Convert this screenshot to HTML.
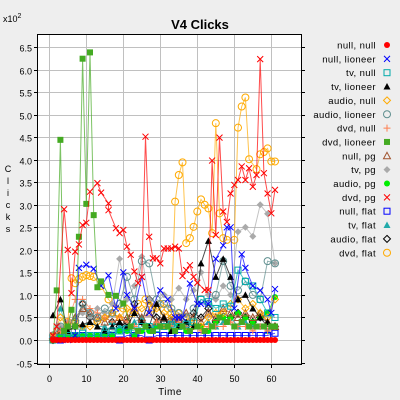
<!DOCTYPE html>
<html><head><meta charset="utf-8"><style>
body{margin:0;background:#eeeeee;}
svg{display:block;font-family:"Liberation Sans",sans-serif;}
</style></head><body>
<svg id="chart" width="400" height="400" viewBox="0 0 400 400">
<rect x="0" y="0" width="400" height="400" fill="#eeeeee"/>
<text x="200" y="29" text-anchor="middle" font-size="13" font-weight="bold">V4 Clicks</text>
<text x="3" y="22" font-size="9">x10<tspan dy="-4" font-size="7">2</tspan></text>
<g id="ytitle" font-size="9" text-anchor="middle">
<text x="8" y="172">C</text><text x="8" y="184">l</text><text x="8" y="196">i</text><text x="8" y="208">c</text><text x="8" y="220">k</text><text x="8" y="232">s</text>
</g>
<text x="170" y="395" text-anchor="middle" font-size="10" letter-spacing="0.5">Time</text>
<g id="plot"></g>
<g id="legend"></g>
</svg>
<script>
const xs1=[1,2,3,4,5,6,7,8,9,10,11,12,13,14,15,16,17,18,19,20,21,22,23,24,25,26,27,28,29,30,31,32,33,34,35,36,37,38,39,40,41,42,43,44,45,46,47,48,49,50,51,52,53,54,55,56,57,58,59,60,61];
const nullNull=[0,0,0,0,0,0,0,0,0,0,0,0,0,0,0,0,0,0,0,0,0,0,0,0,0,0,0,0,0,0,0,0,0,0,0,0,0,0,0,0,0,0,0,0,0,0,0,0,0,0,0,0,0,0,0,0,0,0,0,0,0];
const xs2=[1,3,5,7,9,11,13,15,17,19,21,23,25,27,29,31,33,35,37,39,41,43,45,47,49,51,53,55,57,59,61];
const tvNull=[0,0.05,0.1,0.1,0.15,0.1,0.1,0.15,0.2,0.2,0.25,0.2,0.3,0.3,0.25,0.3,0.35,0.3,0.35,0.4,0.9,0.85,0.7,0.8,0.75,1.55,1.3,1.2,0.9,0.6,0.5];
const audioNull=[0.1,0.5,0.3,0.4,0.3,0.3,0.4,0.5,0.6,0.5,0.7,0.6,0.7,0.8,0.7,0.6,0.5,0.6,0.5,0.4,0.3,0.5,0.6,0.6,0.8,0.9,0.7,0.8,0.6,0.5,0.9];
const dvdNull=[0.1,0.2,0.4,0.9,0.9,0.7,0.6,0.5,0.4,0.5,0.4,0.3,0.4,0.3,0.4,0.3,0.3,0.4,0.3,0.3,0.2,0.3,0.3,0.3,0.4,0.3,0.3,0.2,0.3,0.2,0.3];
const nullPg=[0.1,0.2,0.3,0.5,0.7,0.6,0.5,0.4,0.6,0.5,0.5,0.7,0.5,0.6,0.4,0.5,0.4,0.5,0.6,0.5,0.4,0.6,0.5,0.7,0.6,0.5,0.6,0.5,0.6,0.4,0.3];
const audioPg=[0,0.1,0.1,0.1,0.1,0.1,0.1,0.1,0.1,0.2,0.2,0.1,0.2,0.2,0.3,0.3,0.2,0.3,0.2,0.3,0.3,0.2,0.4,0.5,0.5,0.6,0.5,0.4,0.5,0.6,0.95];
const nullFlat=[0,0,0.05,0.05,0.1,0.1,0.1,0.1,0.1,0,0.1,0.1,0.1,0,0.1,0.1,0.1,0.1,0.1,0.1,0.1,0.1,0.1,0.1,0.1,0.1,0.1,0.1,0.1,0.1,0.15];
const tvFlat=[0.1,0.7,0.2,0.3,0.3,0.4,0.3,0.3,0.4,0.3,0.3,0.4,0.5,0.3,0.4,0.3,0.4,0.3,0.4,0.3,0.3,0.4,0.3,0.4,0.5,0.3,0.4,0.3,0.3,0.2,0.3];
const audioFlat=[0,0.2,0.3,0.3,0.8,0.5,0.4,0.5,0.4,0.3,0.4,0.8,0.4,0.9,0.5,0.4,0.5,0.4,0.3,0.6,0.5,0.7,0.4,0.6,0.5,0.6,0.5,0.4,0.5,0.3,0.3];
const tvLioneer=[0.55,0.9,0.2,0.3,0.35,0.4,0.3,0.2,0.3,0.4,0.3,0.6,0.4,0.3,0.8,0.5,0.2,0.3,0.4,0.3,1.7,2.2,1.4,1.8,1.4,0.9,1.0,0.7,0.5,0.4,0.3];
const audioLioneer=[0.1,0.3,0.2,0.4,0.8,0.6,0.5,0.7,0.6,0.8,1.4,0.9,1.75,1.7,0.9,0.8,0.7,0.6,0.5,0.7,0.9,0.8,1.0,1.75,1.2,1.1,1.3,1.0,0.9,1.75,1.7];
const tvPg=[0.1,0.3,0.4,0.5,0.6,0.5,0.7,0.6,0.8,1.8,0.9,1.2,1.85,0.9,0.8,1.0,0.9,1.15,0.9,1.1,1.5,1.0,0.9,1.2,1.0,2.4,2.5,2.3,3.0,2.8,1.7];
const nullLioneerX=[1,3,5,7,8,10,12,14,16,18,20,21,23,25,27,30,32,34,35,36,38,40,41,43,45,47,48,49,50,52,53,55,57,59,60,61];
const nullLioneer=[0,0,0,0.1,1.6,1.67,1.58,1.2,1.43,0.7,1.5,1.0,0.7,1.4,0.6,1.1,0.9,0.5,0.5,0.5,1.25,0.8,0.8,0.8,1.8,2.1,2.5,2.5,0.7,1.9,1.6,1.2,1.1,0.9,0.6,1.13];
const dvdLioneerX=[1,2,3,4,5,6,7,8,9,10,11,12,13,14,16,18,20,22,24,26,28,30,32,34,36,38,40,42,44,46,48,50,52,54,56,58,60,61];
const dvdLioneer=[0,1.1,4.44,0.2,0.3,0.67,0.3,2.29,6.24,3.02,6.38,2.77,1.17,1.3,1.0,0.98,0.81,0.3,0.2,0.3,0.2,0.3,0.3,0.2,0.3,0.2,0.3,0.2,0.3,0.5,0.4,0.3,0.4,0.3,0.3,0.3,0.3,0.3];
const dvdFlatX=[1,3,5,6,7,8,9,10,11,12,14,16,18,20,22,24,26,28,30,32,33,34,35,36,37,38,39,40,41,42,43,44,45,46,47,48,50,51,52,53,54,56,57,58,59,60,61];
const dvdFlat=[0,0.2,0.4,1.37,1.26,1.35,1.4,1.44,1.42,1.4,1.2,0.9,0.7,0.7,0.6,0.8,0.9,0.7,0.8,0.7,0.6,3.07,3.66,3.94,2.15,2.26,2.51,2.85,3.12,3.0,2.92,2.37,4.81,2.81,2.26,2.22,2.22,4.71,5.18,5.38,4.01,3.79,4.12,4.17,4.25,3.96,3.96];
const dvdPgX=[1,2,4,5,6,7,8,9,10,11,13,14,16,16,18,19,20,21,22,23,24,25,26,27,28,29,30,31,32,33,34,35,36,37,38,39,40,42,43,44,45,46,47,48,49,50,51,52,53,54,55,56,57,58,59,60,61];
const dvdPg=[0.1,0.3,2.9,2.0,1.04,1.96,2.12,2.55,2.6,3.29,3.48,3.27,3.03,2.88,2.48,2.37,2.44,2.07,1.89,1.52,1.26,1.4,4.51,2.29,1.81,1.81,1.70,2.03,2.03,2.03,2.07,2.03,1.42,1.55,1.66,1.40,1.27,1.11,1.11,3.98,2.33,4.49,2.85,2.62,3.25,3.44,3.55,3.85,3.55,3.81,3.4,3.66,6.23,3.7,3.25,2.81,3.33];
const yTicks=[-0.5,0,0.5,1,1.5,2,2.5,3,3.5,4,4.5,5,5.5,6,6.5];
const yTickLabels=["-0.5","0.0","0.5","1.0","1.5","2.0","2.5","3.0","3.5","4.0","4.5","5.0","5.5","6.0","6.5"];
const xTicks=[0,10,20,30,40,50,60];
const xTickLabels=["0","10","20","30","40","50","60"];
const legendLabels=["null, null","null, lioneer","tv, null","tv, lioneer","audio, null","audio, lioneer","dvd, null","dvd, lioneer","null, pg","tv, pg","audio, pg","dvd, pg","null, flat","tv, flat","audio, flat","dvd, flat"];

const NS="http://www.w3.org/2000/svg";
const L=37,R=301,T=34,B=364;
function sx(v){return 49.3+v*3.7;}
function sy(v){return 340-v*45.08;}
function el(tag,attrs,parent){const e=document.createElementNS(NS,tag);for(const k in attrs)e.setAttribute(k,attrs[k]);parent.appendChild(e);return e;}
const plot=document.getElementById('plot');
const bg=el('rect',{x:L,y:T,width:R-L,height:B-T,fill:'#ffffff'},plot);


const grid=el('g',{stroke:'#c0c0c0','stroke-width':1},plot);


yTicks.forEach((t,i)=>{const y=Math.round(sy(t))+0.5;el('line',{x1:L,x2:R,y1:y,y2:y},grid);
 const lb=el('text',{x:32,y:y+4,'text-anchor':'end','font-size':9,fill:'#000'},plot);lb.textContent=yTickLabels[i];
 
 
 el('line',{x1:R,x2:R+4,y1:y,y2:y,stroke:'#000'},plot);
 el('line',{x1:L-3,x2:L,y1:y,y2:y,stroke:'#000'},plot);});
xTicks.forEach((t,i)=>{const x=Math.round(sx(t))+0.5;el('line',{x1:x,x2:x,y1:T,y2:B},grid);
 el('line',{x1:x,x2:x,y1:B,y2:B+4,stroke:'#000'},plot);
 const lb=el('text',{x:x,y:382,'text-anchor':'middle','font-size':9,fill:'#000'},plot);lb.textContent=xTickLabels[i];
 
 });
function marker(g,type,c,x,y){
 const s=3;
 switch(type){
 case 'dot':el('circle',{cx:x,cy:y,r:3,fill:c},g);break;
 case 'x':el('path',{d:`M${x-s} ${y-s}L${x+s} ${y+s}M${x-s} ${y+s}L${x+s} ${y-s}`,stroke:c,fill:'none'},g);break;
 case 'sq':el('rect',{x:x-3,y:y-3,width:6,height:6,stroke:c,fill:'none'},g);break;
 case 'fsq':el('rect',{x:x-3,y:y-3,width:6,height:6,fill:c},g);break;
 case 'ftri':el('path',{d:`M${x} ${y-3.5}L${x+3.5} ${y+3}L${x-3.5} ${y+3}Z`,fill:c},g);break;
 case 'tri':el('path',{d:`M${x} ${y-3.5}L${x+3.5} ${y+3}L${x-3.5} ${y+3}Z`,stroke:c,fill:'none'},g);break;
 case 'dia':el('path',{d:`M${x} ${y-3.5}L${x+3.5} ${y}L${x} ${y+3.5}L${x-3.5} ${y}Z`,stroke:c,fill:'none'},g);break;
 case 'fdia':el('path',{d:`M${x} ${y-3.5}L${x+3.5} ${y}L${x} ${y+3.5}L${x-3.5} ${y}Z`,fill:c},g);break;
 case 'circ':el('circle',{cx:x,cy:y,r:3.5,stroke:c,fill:'none'},g);break;
 case 'plus':el('path',{d:`M${x-3.5} ${y}L${x+3.5} ${y}M${x} ${y-3.5}L${x} ${y+3.5}`,stroke:c,fill:'none'},g);break;
 }
}
const series=[
 {n:'null-null',xs:xs1,ys:nullNull,c:'#ff0000',m:'dot'},
 {n:'null-lioneer',xs:nullLioneerX,ys:nullLioneer,c:'#0000ff',m:'x'},
 {n:'tv-null',xs:xs2,ys:tvNull,c:'#00aaaa',m:'sq'},
 {n:'tv-lioneer',xs:xs2,ys:tvLioneer,c:'#000000',m:'ftri'},
 {n:'audio-null',xs:xs2,ys:audioNull,c:'#ffaa00',m:'dia'},
 {n:'audio-lioneer',xs:xs2,ys:audioLioneer,c:'#5f8f8f',m:'circ'},
 {n:'dvd-null',xs:xs2,ys:dvdNull,c:'#ff7f50',m:'plus'},
 {n:'dvd-lioneer',xs:dvdLioneerX,ys:dvdLioneer,c:'#44aa22',m:'fsq'},
 {n:'null-pg',xs:xs2,ys:nullPg,c:'#a0522d',m:'tri'},
 {n:'tv-pg',xs:xs2,ys:tvPg,c:'#aaaaaa',m:'fdia'},
 {n:'audio-pg',xs:xs2,ys:audioPg,c:'#00ee00',m:'dot'},
 {n:'dvd-pg',xs:dvdPgX,ys:dvdPg,c:'#ff0000',m:'x'},
 {n:'null-flat',xs:xs2,ys:nullFlat,c:'#0000ff',m:'sq'},
 {n:'tv-flat',xs:xs2,ys:tvFlat,c:'#22aaaa',m:'ftri'},
 {n:'audio-flat',xs:xs2,ys:audioFlat,c:'#000000',m:'dia'},
 {n:'dvd-flat',xs:dvdFlatX,ys:dvdFlat,c:'#ffaa00',m:'circ'}
];
const order=[15,14,13,12,10,9,8,6,4,5,3,2,1,7,11,0];
order.forEach(si=>{const s=series[si];
 const g=el('g',{},plot);
 
 
 const pts=s.xs.map((x,i)=>sx(x).toFixed(1)+','+sy(s.ys[i]).toFixed(1)).join(' ');
 const pl=el('polyline',{points:pts,fill:'none',stroke:s.c,'stroke-width':1,'stroke-opacity':0.7},g);
 
 
 s.xs.forEach((x,i)=>marker(g,s.m,s.c,sx(x),sy(s.ys[i])));
});
const frame=el('rect',{x:L+0.5,y:T+0.5,width:R-L,height:B-T,fill:'none',stroke:'#000','stroke-width':1},plot);


const leg=document.getElementById('legend');
legendLabels.forEach((lab,i)=>{const y=45+i*13.85;
 const g=el('g',{},leg);
 
 
 const t=el('text',{x:376,y:y+3.5,'text-anchor':'end','font-size':9.5,'letter-spacing':0.4},g);t.textContent=lab;
 marker(g,series[i].m,series[i].c,387,y);
});
</script>
</body></html>
